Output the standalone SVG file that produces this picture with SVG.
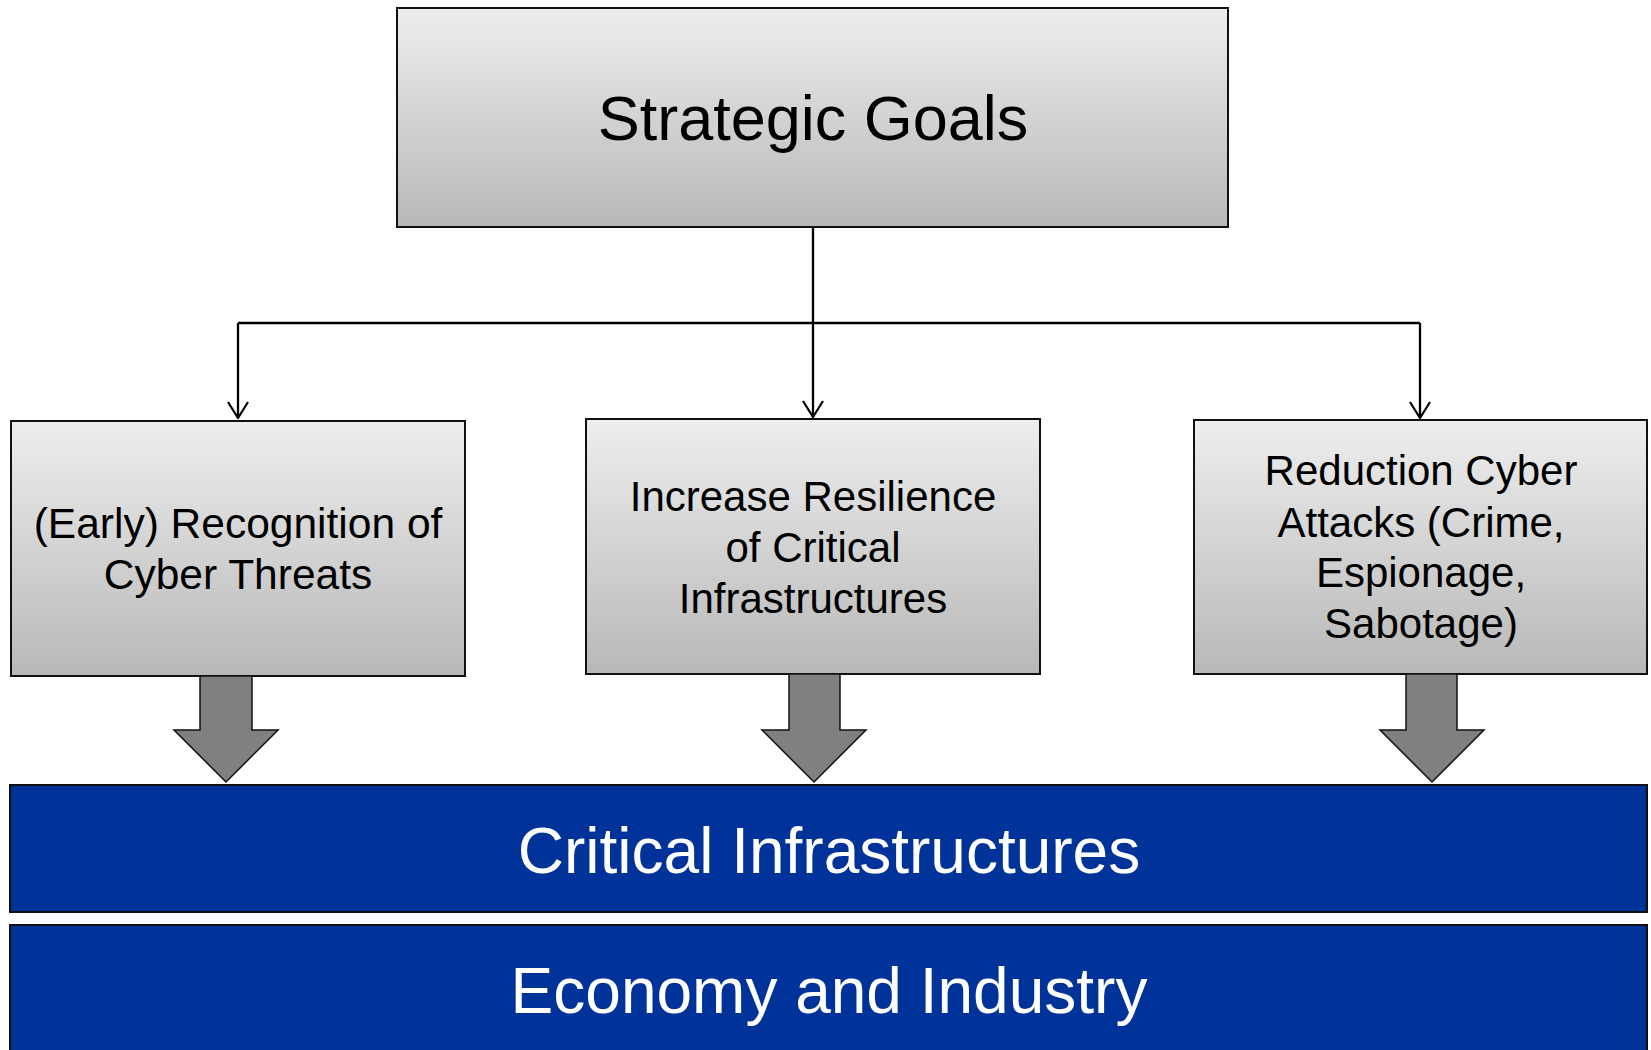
<svg xmlns="http://www.w3.org/2000/svg" width="1651" height="1050" viewBox="0 0 1651 1050">
  <defs>
    <linearGradient id="boxFill" x1="0" y1="0" x2="0" y2="1">
      <stop offset="0" stop-color="#eeeeee"/>
      <stop offset="1" stop-color="#b8b8b8"/>
    </linearGradient>
    <marker id="openDown" viewBox="0 0 22 18" refX="11" refY="17" markerWidth="22" markerHeight="18" markerUnits="userSpaceOnUse" orient="0">
      <path d="M1 1 L11 17 L21 1" fill="none" stroke="#000" stroke-width="2.2"/>
    </marker>
  </defs>
  <style>
    .box { fill: url(#boxFill); stroke: #111; stroke-width: 2; }
    .band { fill: #003399; stroke: #111; stroke-width: 2; }
    .label { font-family: "Liberation Sans", Arial, sans-serif; fill: #000; text-anchor: middle; }
    .bandLabel { font-family: "Liberation Sans", Arial, sans-serif; fill: #fff; text-anchor: middle; font-size: 64px; }
    .link { fill: none; stroke: #000; stroke-width: 2.3; }
    .block { fill: #808080; stroke: #111; stroke-width: 1.5; stroke-linejoin: miter; }
  </style>

  <g id="strategic-goals">
    <rect class="box" x="397" y="8" width="831" height="219"/>
    <text class="label" x="813" y="140" font-size="63">Strategic Goals</text>
  </g>

  <g id="early-recognition">
    <rect class="box" x="11" y="421" width="454" height="255"/>
    <text class="label" font-size="42.5"><tspan x="238" y="538">(Early) Recognition of</tspan><tspan x="238" y="589">Cyber Threats</tspan></text>
  </g>

  <g id="increase-resilience">
    <rect class="box" x="586" y="419" width="454" height="255"/>
    <text class="label" font-size="42"><tspan x="813" y="511">Increase Resilience</tspan><tspan x="813" y="562">of Critical</tspan><tspan x="813" y="613">Infrastructures</tspan></text>
  </g>

  <g id="reduction-attacks">
    <rect class="box" x="1194" y="420" width="453" height="254"/>
    <text class="label" font-size="42"><tspan x="1421" y="485">Reduction Cyber</tspan><tspan x="1421" y="537">Attacks (Crime,</tspan><tspan x="1421" y="587">Espionage,</tspan><tspan x="1421" y="638">Sabotage)</tspan></text>
  </g>

  <g id="critical-infrastructures">
    <rect class="band" x="10" y="785" width="1637" height="127"/>
    <text class="bandLabel" x="829" y="873">Critical Infrastructures</text>
  </g>

  <g id="economy-industry">
    <rect class="band" x="10" y="925" width="1637" height="135"/>
    <text class="bandLabel" x="829" y="1013">Economy and Industry</text>
  </g>

  <g id="connectors">
    <!-- tree from the top box to the three goals -->
    <path class="link" d="M813 227 V417" marker-end="url(#openDown)"/>
    <path class="link" d="M238 323 H1420"/>
    <path class="link" d="M238 323 V418" marker-end="url(#openDown)"/>
    <path class="link" d="M1420 323 V418" marker-end="url(#openDown)"/>
    <!-- block arrows into the infrastructure band -->
    <path class="block" d="M200 676 H252 V730 H278 L226 782 L174 730 H200 Z"/>
    <path class="block" d="M789 674 H840 V730 H866 L814 782 L762 730 H789 Z"/>
    <path class="block" d="M1406 674 H1457 V730 H1484 L1432 782 L1380 730 H1406 Z"/>
  </g>
</svg>
